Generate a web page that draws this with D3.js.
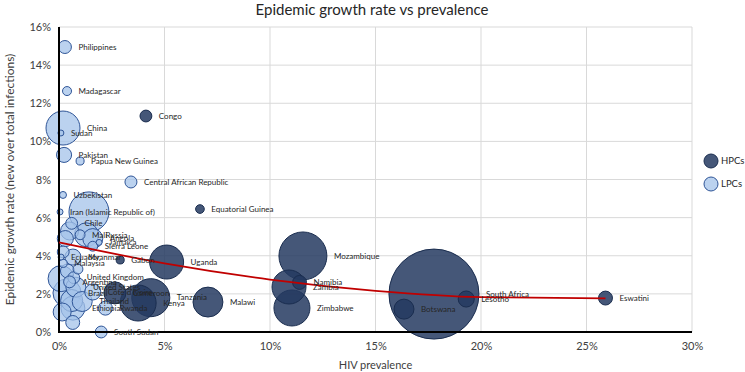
<!DOCTYPE html>
<html>
<head>
<meta charset="utf-8">
<script src="https://cdn.jsdelivr.net/npm/d3@7"></script>
<style>
  body { margin: 0; background: #fff; }
  svg { font-family: Lato, "Liberation Sans", sans-serif; }
</style>
</head>
<body>
<svg id="chart" width="745" height="372"></svg>
<script>
// HPCs (high prevalence countries)
const hpcNames = ["Congo", "Equatorial Guinea", "Gabon", "Uganda", "Mozambique", "Namibia", "Zambia", "Zimbabwe",
  "Malawi", "Kenya", "Tanzania", "Cameroon", "South Africa", "Botswana", "Lesotho", "Eswatini"];
const hpcPrev = [4.12, 6.68, 2.9, 5.1, 11.56, 11.4, 10.9, 11.04, 7.06, 3.75, 4.35, 2.65, 17.77, 16.35, 19.3, 25.9];
const hpcGrowth = [11.33, 6.45, 3.78, 3.67, 3.99, 2.6, 2.36, 1.26, 1.57, 1.52, 1.8, 2.05, 1.99, 1.2, 1.73, 1.78];
const hpcPlhiv = [0.13, 0.07, 0.06, 1.07, 2.13, 0.18, 1.07, 1.2, 0.83, 1.2, 1.34, 0.45, 7.5, 0.37, 0.24, 0.18];

// LPCs (low prevalence countries); '' = bubble whose label is hidden in the original
const lpcNames = ["Philippines", "Madagascar", "China", "Sudan", "Pakistan", "Papua New Guinea", "Central African Republic",
  "Uzbekistan", "Iran (Islamic Republic of)", "", "Chile", "Mali", "Russia", "Angola", "Jamaica", "Sierra Leone",
  "Ecuador", "Myanmar", "Malaysia", "United Kingdom", "Argentina", "United States", "Brazil", "Côte d'Ivoire",
  "Thailand", "Ethiopia", "Rwanda", "South Sudan", "", "", "", "", "", "", "", "", ""];
const lpcPrev = [0.28, 0.38, 0.19, 0.09, 0.24, 1.0, 3.41, 0.19, 0.05, 1.42, 0.6, 1.0, 1.3, 1.6, 1.9, 1.6,
  0.1, 0.66, 0.2, 0.7, 0.5, 0.8, 0.38, 1.6, 1.1, 0.66, 2.2, 2.0, 0.1, 0.6, 0.65, 0.15, 0.3, 0.2, 0.5, 0.4, 0.9];
const lpcGrowth = [14.95, 12.64, 10.7, 10.44, 9.29, 8.97, 7.87, 7.19, 6.3, 6.3, 5.7, 5.1, 5.1, 4.9, 4.7, 4.5,
  3.93, 3.93, 3.6, 2.85, 2.63, 2.35, 2.05, 2.1, 1.6, 1.25, 1.25, 0.0, 2.8, 1.65, 0.5, 1.05, 4.9, 4.2, 5.3, 3.2, 3.3];
const lpcPlhiv = [0.156, 0.075, 1.07, 0.033, 0.21, 0.06, 0.133, 0.045, 0.033, 1.48, 0.13, 0.09, 0.53, 0.37, 0.033, 0.09,
  0.033, 0.24, 0.06, 0.13, 0.13, 0.37, 0.73, 0.24, 0.37, 0.53, 0.18, 0.13, 0.63, 0.45, 0.18, 0.3, 0.24, 0.13, 0.3, 0.18, 0.09];

// polynomial trendline
const trendPrev = [0, 5, 10, 15, 20, 25.9];
const trendGrowth = [4.7, 3.6, 2.75, 2.16, 1.83, 1.77];

const xTicks = [0, 5, 10, 15, 20, 25, 30];
const yTicks = [0, 2, 4, 6, 8, 10, 12, 14, 16];
const groups = ["HPCs", "LPCs"];

const svg = d3.select("#chart");
const plotLeft = 59, plotRight = 692, plotTop = 27, plotBottom = 332;

const x = d3.scaleLinear().domain([0, 30]).range([plotLeft, plotRight]);
const y = d3.scaleLinear().domain([0, 16]).range([plotBottom, plotTop]);
const r = d3.scaleSqrt().domain([0, 7.5]).range([0, 45]);

const colors = {
  HPCs: { fill: "#253a60", opacity: 0.85, stroke: "#1a2d4f" },
  LPCs: { fill: "#a4c3ea", opacity: 0.75, stroke: "#2f5597" }
};

const pct = d => d + "%";

// gridlines
svg.append("g")
  .selectAll("line")
  .data(yTicks.slice(1))
  .join("line")
  .attr("x1", plotLeft).attr("x2", plotRight)
  .attr("y1", d => y(d)).attr("y2", d => y(d))
  .attr("stroke", "#d9d9d9").attr("stroke-width", 1);

svg.append("g")
  .selectAll("line")
  .data(xTicks.slice(1))
  .join("line")
  .attr("x1", d => x(d)).attr("x2", d => x(d))
  .attr("y1", plotTop).attr("y2", plotBottom)
  .attr("stroke", "#d9d9d9").attr("stroke-width", 1);

// axes (labels only, lines drawn separately)
const xAxis = svg.append("g")
  .attr("transform", `translate(0,${plotBottom})`)
  .call(d3.axisBottom(x).tickValues(xTicks).tickFormat(pct).tickSize(0).tickPadding(10));
const yAxis = svg.append("g")
  .attr("transform", `translate(${plotLeft},0)`)
  .call(d3.axisLeft(y).tickValues(yTicks).tickFormat(pct).tickSize(0).tickPadding(8));
[xAxis, yAxis].forEach(a => {
  a.select(".domain").remove();
  a.selectAll("text").attr("fill", "#404040").style("font-size", "11px")
    .style("font-family", "Lato, sans-serif");
});

// bubbles
const points = [];
hpcNames.forEach((n, i) => points.push({ name: n, prev: hpcPrev[i], growth: hpcGrowth[i], size: hpcPlhiv[i], group: "HPCs" }));
lpcNames.forEach((n, i) => points.push({ name: n, prev: lpcPrev[i], growth: lpcGrowth[i], size: lpcPlhiv[i], group: "LPCs" }));
points.sort((a, b) => b.size - a.size);

const plot = svg.append("g");
plot.selectAll("circle")
  .data(points)
  .join("circle")
  .attr("cx", d => x(d.prev))
  .attr("cy", d => y(d.growth))
  .attr("r", d => r(d.size))
  .attr("fill", d => colors[d.group].fill)
  .attr("fill-opacity", d => colors[d.group].opacity)
  .attr("stroke", d => colors[d.group].stroke)
  .attr("stroke-width", 1);

// axis lines
svg.append("line")
  .attr("x1", plotLeft).attr("x2", plotLeft).attr("y1", plotTop).attr("y2", plotBottom)
  .attr("stroke", "#000").attr("stroke-width", 2);
svg.append("line")
  .attr("x1", plotLeft - 1).attr("x2", plotRight).attr("y1", plotBottom).attr("y2", plotBottom)
  .attr("stroke", "#000").attr("stroke-width", 2);

// trendline
const line = d3.line()
  .x((d, i) => x(trendPrev[i]))
  .y(d => y(d))
  .curve(d3.curveMonotoneX);
svg.append("path")
  .datum(trendGrowth)
  .attr("d", line)
  .attr("fill", "none")
  .attr("stroke", "#c00000")
  .attr("stroke-width", 1.75);

// data labels, right of each bubble
svg.append("g")
  .selectAll("text")
  .data(points.filter(d => d.name))
  .join("text")
  .attr("x", d => x(d.prev) + r(d.size) + 7)
  .attr("y", d => y(d.growth))
  .attr("dy", "0.35em")
  .attr("fill", "#262626")
  .style("font-size", "8px")
  .text(d => d.name);

// title
svg.append("text")
  .attr("x", 372).attr("y", 15)
  .attr("text-anchor", "middle")
  .attr("fill", "#262626")
  .style("font-size", "15px")
  .text("Epidemic growth rate vs prevalence");

svg.append("text")
  .attr("x", (plotLeft + plotRight) / 2).attr("y", 369)
  .attr("text-anchor", "middle")
  .attr("fill", "#404040")
  .style("font-size", "11px")
  .text("HIV prevalence");

svg.append("text")
  .attr("transform", `translate(14,${(plotTop + plotBottom) / 2}) rotate(-90)`)
  .attr("text-anchor", "middle")
  .attr("fill", "#404040")
  .style("font-size", "12px")
  .text("Epidemic growth rate (new over total infections)");

// legend
const legend = svg.append("g")
  .selectAll("g")
  .data(groups)
  .join("g")
  .attr("transform", (d, i) => `translate(711,${161 + i * 23})`);
legend.append("circle")
  .attr("r", 7)
  .attr("fill", d => colors[d].fill)
  .attr("fill-opacity", d => colors[d].opacity)
  .attr("stroke", d => colors[d].stroke);
legend.append("text")
  .attr("x", 10).attr("dy", "0.35em")
  .attr("fill", "#262626")
  .style("font-size", "9.5px")
  .text(d => d);
</script>
</body>
</html>
